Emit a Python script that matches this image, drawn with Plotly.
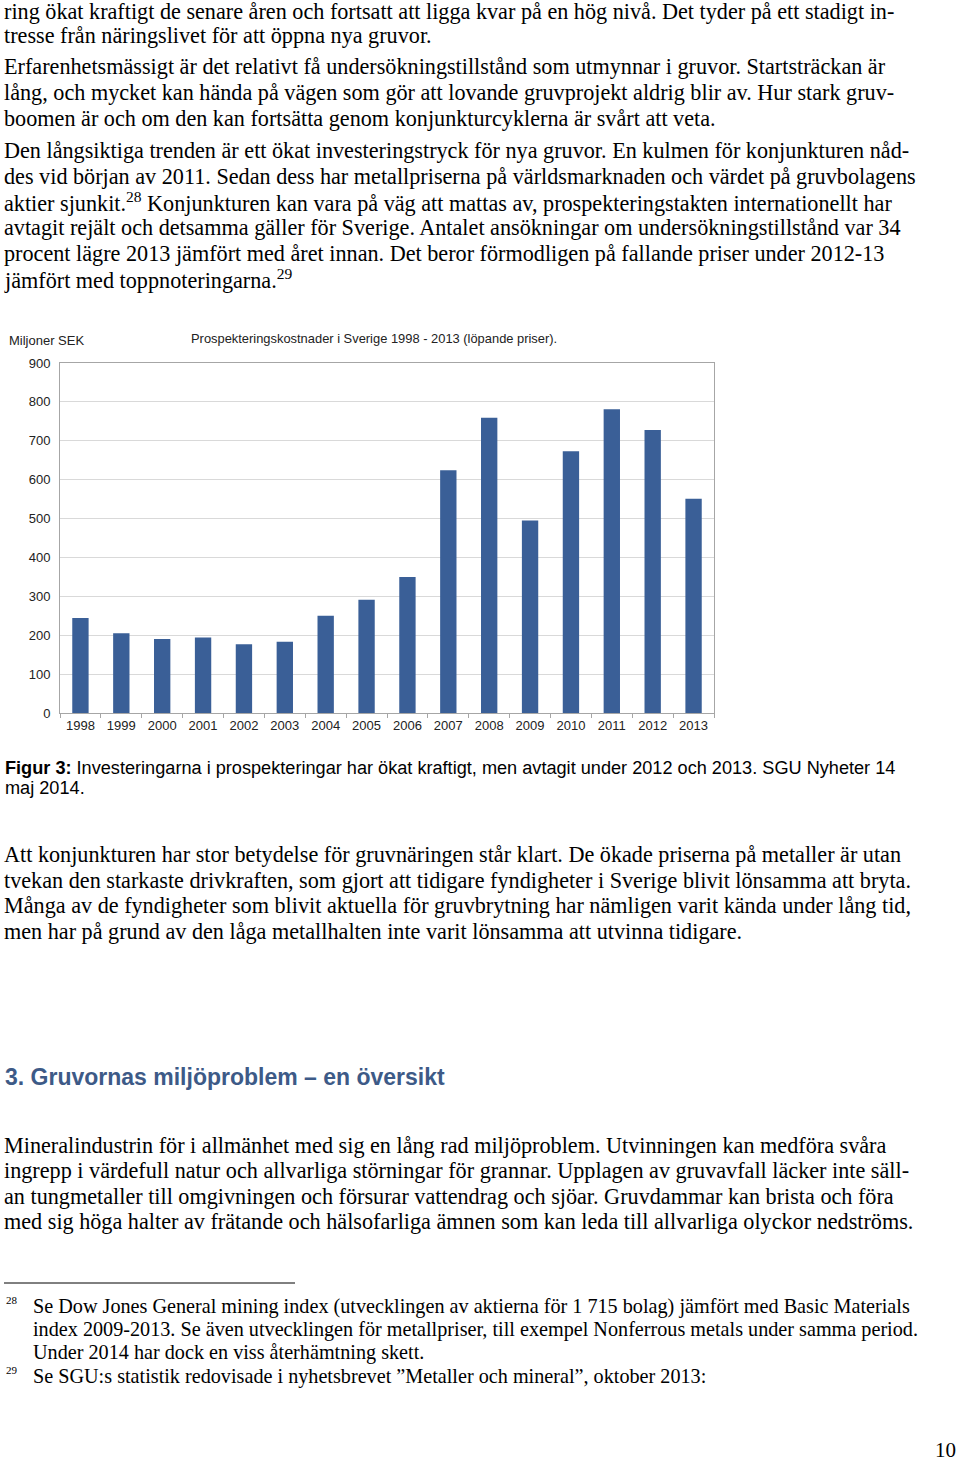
import plotly.graph_objects as go

W, H = 960, 1461

years = ["1998", "1999", "2000", "2001", "2002", "2003", "2004", "2005",
         "2006", "2007", "2008", "2009", "2010", "2011", "2012", "2013"]
costs = [244, 205, 190, 194, 177, 183, 250, 291, 350, 624, 759, 495, 673, 781, 728, 551]
y_ticks = [0, 100, 200, 300, 400, 500, 600, 700, 800, 900]

chart_title = "Prospekteringskostnader i Sverige 1998 - 2013 (löpande priser)."
y_unit = "Miljoner SEK"

para_top = [
    (11, "ring ökat kraftigt de senare åren och fortsatt att ligga kvar på en hög nivå. Det tyder på ett stadigt in-"),
    (35, "tresse från näringslivet för att öppna nya gruvor."),
    (67, "Erfarenhetsmässigt är det relativt få undersökningstillstånd som utmynnar i gruvor. Startsträckan är"),
    (92, "lång, och mycket kan hända på vägen som gör att lovande gruvprojekt aldrig blir av. Hur stark gruv-"),
    (118, "boomen är och om den kan fortsätta genom konjunkturcyklerna är svårt att veta."),
    (151, "Den långsiktiga trenden är ett ökat investeringstryck för nya gruvor. En kulmen för konjunkturen nåd-"),
    (177, "des vid början av 2011. Sedan dess har metallpriserna på världsmarknaden och värdet på gruvbolagens"),
    (202, "aktier sjunkit.<sup>28</sup> Konjunkturen kan vara på väg att mattas av, prospekteringstakten internationellt har"),
    (228, "avtagit rejält och detsamma gäller för Sverige. Antalet ansökningar om undersökningstillstånd var 34"),
    (253, "procent lägre 2013 jämfört med året innan. Det beror förmodligen på fallande priser under 2012-13"),
    (279, "jämfört med toppnoteringarna.<sup>29</sup>"),
    (855, "Att konjunkturen har stor betydelse för gruvnäringen står klart. De ökade priserna på metaller är utan"),
    (880, "tvekan den starkaste drivkraften, som gjort att tidigare fyndigheter i Sverige blivit lönsamma att bryta."),
    (905, "Många av de fyndigheter som blivit aktuella för gruvbrytning har nämligen varit kända under lång tid,"),
    (931, "men har på grund av den låga metallhalten inte varit lönsamma att utvinna tidigare."),
    (1145, "Mineralindustrin för i allmänhet med sig en lång rad miljöproblem. Utvinningen kan medföra svåra"),
    (1170, "ingrepp i värdefull natur och allvarliga störningar för grannar. Upplagen av gruvavfall läcker inte säll-"),
    (1196, "an tungmetaller till omgivningen och försurar vattendrag och sjöar. Gruvdammar kan brista och föra"),
    (1221, "med sig höga halter av frätande och hälsofarliga ämnen som kan leda till allvarliga olyckor nedströms."),
]

caption = [
    (768, "<b>Figur 3:</b> Investeringarna i prospekteringar har ökat kraftigt, men avtagit under 2012 och 2013. SGU Nyheter 14"),
    (788, "maj 2014."),
]

heading = "3. Gruvornas miljöproblem – en översikt"

footnotes = [
    (1306, "Se Dow Jones General mining index (utvecklingen av aktierna för 1 715 bolag) jämfört med Basic Materials"),
    (1329, "index 2009-2013. Se även utvecklingen för metallpriser, till exempel Nonferrous metals under samma period."),
    (1352, "Under 2014 har dock en viss återhämtning skett."),
    (1376, "Se SGU:s statistik redovisade i nyhetsbrevet ”Metaller och mineral”, oktober 2013:"),
]
footnote_marks = [(1300, "28"), (1370, "29")]


def px(x):
    return x / W


def py(y):
    return 1 - y / H


SERIF = "Liberation Serif, Times New Roman, serif"
SANS = "Liberation Sans, Arial, sans-serif"

fig = go.Figure()
fig.add_trace(go.Bar(
    x=years, y=costs,
    marker=dict(color="#3a5f97", line=dict(width=0)),
    width=0.4,
    hoverinfo="x+y",
))

ann = []


def add_text(x, y, text, family, size, color="#000", anchor="left"):
    ann.append(dict(xref="paper", yref="paper", x=px(x), y=py(y), text=text,
                    xanchor=anchor, yanchor="middle", showarrow=False,
                    font=dict(family=family, size=size, color=color)))


for y, t in para_top:
    add_text(2, y, t, SERIF, 22.2)
for y, t in caption:
    add_text(3, y, t, SANS, 18.15)
add_text(3, 1077, "<b>" + heading + "</b>", SANS, 23, "#3d5a87")
for y, t in footnotes:
    add_text(31, y, t, SERIF, 20.2)
for y, t in footnote_marks:
    add_text(4, y, t, SERIF, 11)
add_text(958, 1450, "10", SERIF, 21, anchor="right")
add_text(7, 340, y_unit, SANS, 13, "#222")
add_text(189, 338, chart_title, SANS, 12.9, "#222")

shapes = [dict(type="line", xref="paper", yref="paper", x0=px(4), x1=px(295),
               y0=py(1283), y1=py(1283), line=dict(color="#000", width=1))]

fig.update_layout(
    width=W, height=H, autosize=False,
    margin=dict(l=0, r=0, t=0, b=0, pad=0),
    paper_bgcolor="white", plot_bgcolor="white",
    showlegend=False,
    annotations=ann,
    shapes=shapes,
    xaxis=dict(domain=[px(60), px(714)], type="category", automargin=False,
               showline=True, linecolor="#a6a6a6", linewidth=1, mirror=True,
               ticks="outside", tickson="boundaries", ticklen=4, tickcolor="#a6a6a6",
               tickfont=dict(family=SANS, size=13, color="#222"),
               showgrid=False, fixedrange=True),
    yaxis=dict(domain=[py(713), py(363)], range=[0, 900], tickvals=y_ticks, automargin=False,
               showline=True, linecolor="#a6a6a6", linewidth=1, mirror=True,
               gridcolor="#d9d9d9", gridwidth=1, zeroline=False,
               ticks="", ticklabelstandoff=6,
               tickfont=dict(family=SANS, size=13, color="#222"), fixedrange=True),
)

fig.write_html("out.html", config={"displayModeBar": False},
               post_script="document.body.style.margin='0';")
